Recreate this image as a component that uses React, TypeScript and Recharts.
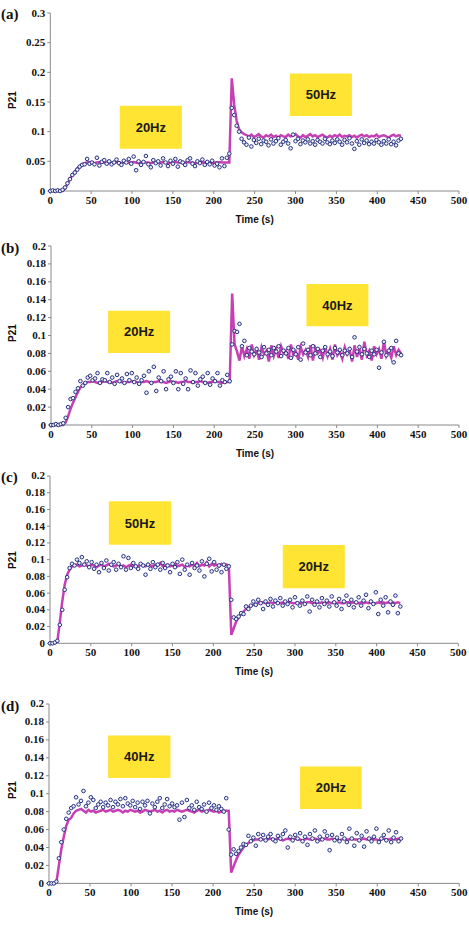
import React from 'react';
import { ComposedChart, Line, XAxis, YAxis, ReferenceArea } from 'recharts';

// sampling grid (s)
const TIME = [
  0, 3, 6, 9, 12, 15, 18, 21, 24, 27,
  30, 33, 36, 39, 42, 45, 48, 51, 54, 57,
  60, 63, 66, 69, 72, 75, 78, 81, 84, 87,
  90, 93, 96, 99, 102, 105, 108, 111, 114, 117,
  120, 123, 126, 129, 132, 135, 138, 141, 144, 147,
  150, 153, 156, 159, 162, 165, 168, 171, 174, 177,
  180, 183, 186, 189, 192, 195, 198, 201, 204, 207,
  210, 213, 216, 219, 222, 225, 228, 231, 234, 237,
  240, 243, 246, 249, 252, 255, 258, 261, 264, 267,
  270, 273, 276, 279, 282, 285, 288, 291, 294, 297,
  300, 303, 306, 309, 312, 315, 318, 321, 324, 327,
  330, 333, 336, 339, 342, 345, 348, 351, 354, 357,
  360, 363, 366, 369, 372, 375, 378, 381, 384, 387,
  390, 393, 396, 399, 402, 405, 408, 411, 414, 417,
  420, 423, 426, 429,
];

const X_TICKS = [0, 50, 100, 150, 200, 250, 300, 350, 400, 450, 500];
const Y_TICKS_A = [0, 0.05, 0.1, 0.15, 0.2, 0.25, 0.3];
const Y_TICKS_BCD = [0, 0.02, 0.04, 0.06, 0.08, 0.1, 0.12, 0.14, 0.16, 0.18, 0.2];

// ---- panel (a) 20Hz -> 50Hz
const OBS_A = [
  0, 0.001, 0, 0.001, 0, 0.002, 0.006, 0.013, 0.02, 0.027,
  0.031, 0.036, 0.041, 0.044, 0.045, 0.054, 0.046, 0.048, 0.045, 0.056,
  0.043, 0.049, 0.052, 0.046, 0.05, 0.045, 0.048, 0.053, 0.047, 0.044,
  0.051, 0.048, 0.054, 0.046, 0.058, 0.035, 0.05, 0.044, 0.049, 0.059,
  0.045, 0.04, 0.052, 0.047, 0.05, 0.043, 0.055, 0.048, 0.042, 0.051,
  0.046, 0.054, 0.041, 0.05, 0.048, 0.044, 0.052, 0.055, 0.046, 0.042,
  0.05, 0.047, 0.053, 0.044, 0.049, 0.045, 0.051, 0.043, 0.046, 0.04,
  0.055, 0.042, 0.056, 0.063, 0.14, 0.128, 0.11, 0.1, 0.088, 0.082,
  0.078, 0.09, 0.075, 0.086, 0.081, 0.088, 0.079, 0.085, 0.083, 0.077,
  0.087, 0.08, 0.084, 0.089, 0.078, 0.083, 0.086, 0.08, 0.072, 0.095,
  0.084, 0.088, 0.079, 0.085, 0.082, 0.087, 0.08, 0.084, 0.078, 0.086,
  0.083, 0.08, 0.088, 0.082, 0.079, 0.085, 0.081, 0.087, 0.083, 0.078,
  0.086, 0.082, 0.089, 0.08, 0.071, 0.084, 0.078, 0.087, 0.081, 0.085,
  0.079, 0.083, 0.08, 0.086, 0.082, 0.078, 0.084, 0.08, 0.087, 0.079,
  0.083, 0.077, 0.085, 0.088,
];
const MODEL_A = [
  0, 0, 0, 0, 0, 0,
  0.004, 0.012, 0.02, 0.027, 0.033, 0.038, 0.042, 0.045, 0.047,
  0.048, 0.049, 0.048, 0.047, 0.048, 0.049, 0.048, 0.048, 0.047, 0.049,
  0.048, 0.048, 0.049, 0.048, 0.047, 0.048, 0.049, 0.048, 0.048, 0.049,
  0.048, 0.047, 0.048, 0.049, 0.048, 0.048, 0.047, 0.048, 0.049, 0.048,
  0.048, 0.049, 0.048, 0.047, 0.048, 0.048, 0.049, 0.048, 0.048, 0.047,
  0.048, 0.049, 0.048, 0.048, 0.047, 0.048, 0.049, 0.048, 0.048, 0.049,
  0.048, 0.047, 0.048, 0.048, 0.049, 0.048, 0.048, 0.048, 0.048,
  0.19, 0.145, 0.118, 0.104, 0.099, 0.096, 0.094,
  0.092, 0.095, 0.091, 0.093, 0.096, 0.092, 0.09, 0.094, 0.092, 0.095,
  0.091, 0.093, 0.09, 0.094, 0.092, 0.091, 0.095, 0.092, 0.093, 0.096,
  0.092, 0.09, 0.094, 0.091, 0.093, 0.096, 0.092, 0.094, 0.091, 0.093,
  0.095, 0.092, 0.09, 0.093, 0.091, 0.094, 0.092, 0.095, 0.091, 0.093,
  0.092, 0.094, 0.091, 0.093, 0.09, 0.093, 0.095, 0.092, 0.094, 0.091,
  0.093, 0.092, 0.095, 0.091, 0.093, 0.094, 0.092, 0.09, 0.093, 0.095,
  0.092, 0.094, 0.093,
];

// ---- panel (b) 20Hz -> 40Hz
const OBS_B = [
  0, 0, 0.001, 0, 0.001, 0.002, 0.008, 0.02, 0.029, 0.03,
  0.037, 0.041, 0.049, 0.044, 0.047, 0.053, 0.055, 0.05, 0.052, 0.058,
  0.047, 0.051, 0.05, 0.058, 0.048, 0.053, 0.046, 0.056, 0.049, 0.052,
  0.047, 0.057, 0.05, 0.058, 0.048, 0.053, 0.046, 0.05, 0.055, 0.036,
  0.06, 0.047, 0.065, 0.038, 0.053, 0.049, 0.06, 0.04, 0.051, 0.054,
  0.047, 0.06, 0.04, 0.058, 0.046, 0.052, 0.04, 0.061, 0.048, 0.058,
  0.044, 0.051, 0.054, 0.047, 0.058, 0.045, 0.052, 0.049, 0.058, 0.044,
  0.05, 0.048, 0.056, 0.049, 0.09, 0.105, 0.104, 0.113, 0.088, 0.094,
  0.078, 0.086, 0.082, 0.079, 0.085, 0.081, 0.076, 0.087, 0.08, 0.084,
  0.078, 0.086, 0.082, 0.088, 0.077, 0.083, 0.08, 0.086, 0.075, 0.084,
  0.079, 0.087, 0.073, 0.091, 0.081, 0.084, 0.078, 0.088, 0.08, 0.085,
  0.076, 0.083, 0.087, 0.079, 0.082, 0.077, 0.086, 0.081, 0.084, 0.078,
  0.083, 0.08, 0.085, 0.076, 0.098, 0.082, 0.087, 0.079, 0.085, 0.08,
  0.076, 0.083, 0.079, 0.084, 0.064, 0.081, 0.093, 0.078, 0.083, 0.086,
  0.07, 0.094, 0.08, 0.078,
];
const MODEL_B = [
  0, 0, 0, 0, 0, 0,
  0.003, 0.01, 0.018, 0.025, 0.031, 0.037, 0.042, 0.045, 0.047,
  0.048, 0.048, 0.049, 0.048, 0.047, 0.048, 0.048, 0.049, 0.048, 0.048,
  0.047, 0.048, 0.049, 0.048, 0.048, 0.047, 0.048, 0.048, 0.049, 0.048,
  0.048, 0.047, 0.048, 0.048, 0.049, 0.048, 0.047, 0.048, 0.048, 0.049,
  0.048, 0.048, 0.047, 0.048, 0.049, 0.048, 0.048, 0.047, 0.048, 0.048,
  0.049, 0.048, 0.048, 0.047, 0.048, 0.048, 0.049, 0.048, 0.048, 0.047,
  0.048, 0.048, 0.049, 0.048, 0.048, 0.047, 0.048, 0.048, 0.048,
  0.147, 0.09, 0.082,
  0.072, 0.088, 0.077, 0.085, 0.074, 0.09, 0.078, 0.084, 0.073, 0.087,
  0.079, 0.083, 0.071, 0.089, 0.077, 0.085, 0.075, 0.088, 0.08, 0.083,
  0.074, 0.09, 0.078, 0.082, 0.073, 0.087, 0.079, 0.084, 0.076, 0.089,
  0.072, 0.086, 0.08, 0.083, 0.075, 0.088, 0.077, 0.085, 0.073, 0.09,
  0.078, 0.082, 0.074, 0.087, 0.079, 0.084, 0.071, 0.089, 0.076, 0.085,
  0.073, 0.093, 0.078, 0.083, 0.072, 0.088, 0.079, 0.085, 0.074, 0.094,
  0.077, 0.083, 0.075, 0.088, 0.078, 0.084, 0.08,
];

// ---- panel (c) 50Hz -> 20Hz
const OBS_C = [
  0, 0, 0.001, 0.003, 0.022, 0.04, 0.064, 0.079, 0.09, 0.095,
  0.093, 0.1, 0.096, 0.103, 0.094, 0.098, 0.091, 0.097, 0.089, 0.094,
  0.085, 0.096, 0.09, 0.099, 0.087, 0.094, 0.097, 0.088, 0.095, 0.091,
  0.104, 0.088, 0.102, 0.09, 0.096, 0.092, 0.089, 0.095, 0.093, 0.082,
  0.094, 0.089, 0.097, 0.091, 0.094, 0.088, 0.096, 0.09, 0.093, 0.085,
  0.095, 0.091, 0.097, 0.083, 0.1, 0.088, 0.094, 0.082, 0.096, 0.09,
  0.093, 0.087, 0.098, 0.08, 0.095, 0.101, 0.086, 0.097, 0.088, 0.093,
  0.085, 0.094, 0.089, 0.092, 0.052, 0.031, 0.029, 0.032, 0.036, 0.035,
  0.044, 0.041, 0.045, 0.05, 0.046, 0.052, 0.048, 0.041, 0.05, 0.046,
  0.053, 0.044, 0.051, 0.048, 0.054, 0.045, 0.05, 0.047, 0.052, 0.043,
  0.055, 0.048, 0.045, 0.051, 0.047, 0.056, 0.038, 0.052, 0.046, 0.05,
  0.043, 0.054, 0.047, 0.051, 0.044, 0.056, 0.049, 0.045, 0.053, 0.041,
  0.05, 0.057, 0.046, 0.052, 0.043, 0.049, 0.055, 0.045, 0.051, 0.058,
  0.042, 0.05, 0.047, 0.061, 0.035, 0.052, 0.045, 0.055, 0.037, 0.05,
  0.046, 0.057, 0.036, 0.044,
];
const MODEL_C = [
  0, 0, 0, 0.002,
  0.025, 0.05, 0.07, 0.082, 0.088, 0.092, 0.093,
  0.094, 0.092, 0.093, 0.095, 0.093, 0.092, 0.094, 0.093, 0.091, 0.093,
  0.094, 0.092, 0.093, 0.095, 0.093, 0.092, 0.093, 0.094, 0.092, 0.093,
  0.091, 0.093, 0.094, 0.092, 0.093, 0.092, 0.094, 0.093, 0.092, 0.095,
  0.093, 0.092, 0.094, 0.093, 0.096, 0.092, 0.093, 0.094, 0.092, 0.093,
  0.095, 0.092, 0.093, 0.094, 0.091, 0.093, 0.092, 0.094, 0.093, 0.096,
  0.092, 0.094, 0.093, 0.097, 0.092, 0.095, 0.093, 0.094, 0.092, 0.095,
  0.093, 0.094, 0.093,
  0.01, 0.018, 0.026, 0.031, 0.035, 0.038, 0.041, 0.043, 0.045, 0.046, 0.047, 0.048,
  0.048, 0.049, 0.048, 0.048, 0.049, 0.048, 0.049, 0.048, 0.048, 0.049,
  0.048, 0.049, 0.049, 0.048, 0.048, 0.049, 0.048, 0.049, 0.048, 0.049,
  0.049, 0.048, 0.048, 0.049, 0.048, 0.049, 0.048, 0.048, 0.049, 0.048,
  0.049, 0.048, 0.049, 0.048, 0.048, 0.049, 0.049, 0.048, 0.049, 0.048,
  0.048, 0.049, 0.048, 0.049, 0.048, 0.049, 0.048, 0.048, 0.049, 0.048,
  0.049, 0.048, 0.049, 0.048, 0.049, 0.048, 0.049, 0.048,
];

// ---- panel (d) 40Hz -> 20Hz
const OBS_D = [
  0, 0, 0, 0.002, 0.028, 0.046, 0.06, 0.072, 0.079, 0.084,
  0.086, 0.096, 0.088, 0.092, 0.103, 0.086, 0.09, 0.096, 0.093, 0.084,
  0.088, 0.091, 0.085, 0.09, 0.087, 0.093, 0.085, 0.091, 0.088, 0.094,
  0.086, 0.095, 0.089, 0.087, 0.092, 0.085, 0.09, 0.083, 0.091, 0.087,
  0.092, 0.078, 0.089, 0.085, 0.091, 0.095, 0.084, 0.088, 0.094, 0.086,
  0.089, 0.085, 0.087, 0.071, 0.09, 0.074, 0.093, 0.084, 0.087, 0.082,
  0.091, 0.085, 0.083, 0.088, 0.08, 0.09, 0.084, 0.087, 0.082, 0.086,
  0.083, 0.08, 0.095, 0.06, 0.032, 0.038, 0.033, 0.036, 0.04, 0.044,
  0.043, 0.053, 0.047, 0.051, 0.042, 0.055, 0.049, 0.054, 0.048, 0.052,
  0.055, 0.049, 0.047, 0.053, 0.05, 0.055, 0.059, 0.04, 0.052, 0.048,
  0.054, 0.05, 0.056, 0.047, 0.052, 0.043, 0.055, 0.05, 0.059, 0.047,
  0.052, 0.049, 0.058, 0.053, 0.037, 0.054, 0.048, 0.051, 0.047, 0.055,
  0.05, 0.046, 0.061, 0.05, 0.042, 0.056, 0.048, 0.053, 0.041, 0.058,
  0.05, 0.047, 0.052, 0.061, 0.046, 0.05, 0.054, 0.048, 0.059, 0.046,
  0.051, 0.057, 0.047, 0.05,
];
const MODEL_D = [
  0, 0, 0, 0.001,
  0.02, 0.038, 0.052, 0.064, 0.071, 0.073, 0.078, 0.081, 0.082, 0.083,
  0.081, 0.079, 0.082, 0.08, 0.081, 0.079, 0.08, 0.081, 0.082, 0.08,
  0.081, 0.082, 0.08, 0.081, 0.082, 0.081, 0.079, 0.081, 0.08, 0.082,
  0.081, 0.08, 0.081, 0.079, 0.08, 0.082, 0.081, 0.08, 0.081, 0.082,
  0.08, 0.081, 0.079, 0.081, 0.082, 0.08, 0.081, 0.08, 0.082, 0.081,
  0.08, 0.081, 0.082, 0.081, 0.08, 0.079, 0.081, 0.082, 0.08, 0.081,
  0.08, 0.082, 0.081, 0.08, 0.081, 0.079, 0.08, 0.081, 0.081, 0.081,
  0.012, 0.019, 0.026, 0.032, 0.036, 0.04, 0.043, 0.045, 0.047, 0.048,
  0.049, 0.049, 0.05, 0.049, 0.048, 0.049, 0.05, 0.049, 0.049, 0.05,
  0.049, 0.048, 0.049, 0.05, 0.049, 0.049, 0.05, 0.049, 0.049, 0.048,
  0.049, 0.05, 0.049, 0.049, 0.05, 0.049, 0.048, 0.049, 0.05, 0.049,
  0.049, 0.05, 0.049, 0.049, 0.048, 0.049, 0.05, 0.049, 0.049, 0.05,
  0.049, 0.049, 0.048, 0.049, 0.05, 0.049, 0.049, 0.05, 0.049, 0.049,
  0.048, 0.049, 0.05, 0.049, 0.049, 0.05, 0.049, 0.049, 0.05, 0.049,
];

// annotation boxes (frequency labels), in data units
const BOXES_A = [
  { label: '20Hz', x1: 85, x2: 161, y1: 0.0713, y2: 0.1438 },
  { label: '50Hz', x1: 293, x2: 369, y1: 0.1264, y2: 0.198 },
];
const BOXES_B = [
  { label: '20Hz', x1: 70, x2: 146, y1: 0.0804, y2: 0.1277 },
  { label: '40Hz', x1: 313, x2: 389, y1: 0.1103, y2: 0.1575 },
];
const BOXES_C = [
  { label: '50Hz', x1: 72, x2: 148.5, y1: 0.1179, y2: 0.1698 },
  { label: '20Hz', x1: 285, x2: 361, y1: 0.0657, y2: 0.1175 },
];
const BOXES_D = [
  { label: '40Hz', x1: 72, x2: 148, y1: 0.1175, y2: 0.165 },
  { label: '20Hz', x1: 306, x2: 381, y1: 0.0829, y2: 0.1304 },
];

const SERIF = 'Liberation Serif, Times New Roman, serif';
const SANS = 'Liberation Sans, Arial, sans-serif';
const AXIS = '#8a8a8a';
const MAGENTA = '#c63fb5';
const NAVY = '#26307f';
const YELLOW = '#ffe433';

const fmt = (v: number) => String(Number(v.toFixed(2)));

function XTick(props: any) {
  const { x, y, payload } = props;
  return (
    <text
      x={x}
      y={y}
      dy={8}
      textAnchor="middle"
      fill="#111"
      fontSize={11}
      fontWeight="bold"
      fontFamily={SERIF}
    >
      {payload.value}
    </text>
  );
}

function YTick(props: any) {
  const { x, y, payload } = props;
  return (
    <text
      x={x}
      y={y}
      dy={3.5}
      textAnchor="end"
      fill="#111"
      fontSize={11}
      fontWeight="bold"
      fontFamily={SERIF}
    >
      {fmt(payload.value)}
    </text>
  );
}

type PanelProps = {
  letter: string;
  obs: number[];
  model: number[];
  yMax: number;
  yTicks: number[];
  boxes: { label: string; x1: number; x2: number; y1: number; y2: number }[];
  plotTop: number;
  plotBottom: number;
  plotLeft: number;
  plotRight: number;
  letterY: number;
  pY: number;
};

function Panel(p: PanelProps) {
  const data = TIME.map((t, i) => ({ t, obs: p.obs[i], model: p.model[i] }));
  const mt = 10;
  const xh = 34;
  const yw = 40;
  const h = mt + (p.plotBottom - p.plotTop) + xh;
  return (
    <>
      <div style={{ position: 'absolute', left: 0, top: p.plotTop - mt }}>
        <ComposedChart
          width={469}
          height={h}
          data={data}
          margin={{ top: mt, right: 469 - p.plotRight, left: p.plotLeft - yw, bottom: 0 }}
        >
          <XAxis
            xAxisId="x"
            dataKey="t"
            type="number"
            domain={[0, 500]}
            ticks={X_TICKS}
            interval={0}
            tickSize={3}
            tickMargin={2}
            stroke={AXIS}
            height={xh}
            tick={<XTick />}
            label={{
              value: 'Time (s)',
              position: 'insideBottom',
              offset: 2,
              fill: '#111',
              fontSize: 10,
              fontWeight: 700,
              fontFamily: SANS,
            }}
          />
          <XAxis
            xAxisId="xt"
            orientation="top"
            type="number"
            domain={[0, 500]}
            tick={false}
            tickLine={false}
            height={0}
            stroke={AXIS}
          />
          <YAxis
            yAxisId="y"
            type="number"
            domain={[0, p.yMax]}
            ticks={p.yTicks}
            interval={0}
            tickSize={3}
            tickMargin={2}
            width={yw}
            stroke={AXIS}
            tick={<YTick />}
          />
          <YAxis
            yAxisId="yr"
            orientation="right"
            type="number"
            domain={[0, p.yMax]}
            tick={false}
            tickLine={false}
            width={0}
            stroke={AXIS}
          />
          {p.boxes.map((b) => (
            <ReferenceArea
              key={b.label + b.x1}
              xAxisId="x"
              yAxisId="y"
              x1={b.x1}
              x2={b.x2}
              y1={b.y1}
              y2={b.y2}
              fill={YELLOW}
              fillOpacity={1}
              stroke="none"
              label={{
                value: b.label,
                position: 'center',
                fill: '#1a1a1a',
                fontSize: 13,
                fontWeight: 700,
                fontFamily: SANS,
              }}
            />
          ))}
          <Line
            xAxisId="x"
            yAxisId="y"
            dataKey="model"
            stroke={MAGENTA}
            strokeWidth={2.5}
            dot={false}
            activeDot={false}
            isAnimationActive={false}
          />
          <Line
            xAxisId="x"
            yAxisId="y"
            dataKey="obs"
            stroke="none"
            dot={{ r: 1.8, stroke: NAVY, strokeWidth: 1, fill: '#eef1fa' }}
            activeDot={false}
            isAnimationActive={false}
          />
        </ComposedChart>
      </div>
      <div
        style={{
          position: 'absolute',
          left: 1,
          top: p.letterY - 9,
          height: 18,
          lineHeight: '18px',
          fontFamily: SERIF,
          fontWeight: 700,
          fontSize: 15,
          color: '#111',
        }}
      >
        {p.letter}
      </div>
      <div
        style={{
          position: 'absolute',
          left: 13 - 20,
          top: p.pY - 6,
          width: 40,
          height: 12,
          lineHeight: '12px',
          textAlign: 'center',
          transform: 'rotate(-90deg)',
          fontFamily: SANS,
          fontWeight: 700,
          fontSize: 10,
          color: '#111',
        }}
      >
        P21
      </div>
    </>
  );
}

export default function App() {
  return (
    <div
      style={{
        position: 'absolute',
        left: 0,
        top: 0,
        width: 469,
        height: 933,
        background: '#fff',
        overflow: 'hidden',
      }}
    >
      <Panel
        letter="(a)"
        obs={OBS_A}
        model={MODEL_A}
        yMax={0.3}
        yTicks={Y_TICKS_A}
        boxes={BOXES_A}
        plotTop={13.3}
        plotBottom={191.3}
        plotLeft={50.3}
        plotRight={459}
        letterY={14}
        pY={100}
      />
      <Panel
        letter="(b)"
        obs={OBS_B}
        model={MODEL_B}
        yMax={0.2}
        yTicks={Y_TICKS_BCD}
        boxes={BOXES_B}
        plotTop={246}
        plotBottom={425}
        plotLeft={51}
        plotRight={459}
        letterY={247.7}
        pY={333}
      />
      <Panel
        letter="(c)"
        obs={OBS_C}
        model={MODEL_C}
        yMax={0.2}
        yTicks={Y_TICKS_BCD}
        boxes={BOXES_C}
        plotTop={476}
        plotBottom={643.3}
        plotLeft={50}
        plotRight={458.3}
        letterY={476.7}
        pY={560}
      />
      <Panel
        letter="(d)"
        obs={OBS_D}
        model={MODEL_D}
        yMax={0.2}
        yTicks={Y_TICKS_BCD}
        boxes={BOXES_D}
        plotTop={704.3}
        plotBottom={883.7}
        plotLeft={49}
        plotRight={459.3}
        letterY={706}
        pY={790}
      />
    </div>
  );
}
